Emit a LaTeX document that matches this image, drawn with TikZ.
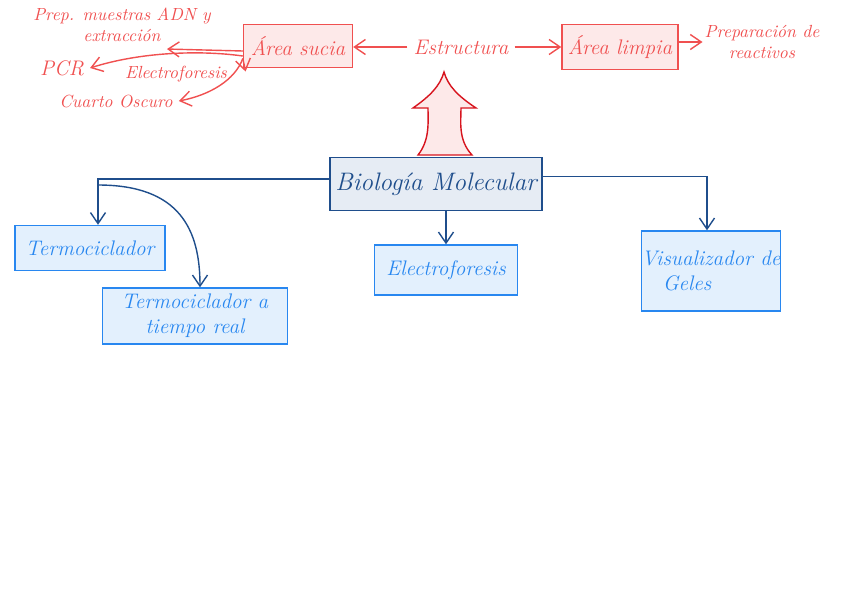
\documentclass[tikz,border=0pt]{standalone}
\usepackage{tikz}
\usetikzlibrary{arrows.meta, positioning, calc}
\definecolor{sketchred}{RGB}{240, 80, 80}
\definecolor{sketchredfill}{RGB}{253, 233, 233}
\definecolor{darkred}{RGB}{215, 20, 30}
\definecolor{bioblue}{RGB}{31, 78, 140}
\definecolor{biofill}{RGB}{230, 236, 244}
\definecolor{lightblue}{RGB}{40, 135, 240}
\definecolor{lightbluefill}{RGB}{227, 240, 253}
\begin{document}
\begin{tikzpicture}[x=0.02cm, y=-0.02cm, >={Straight Barb[length=2.2mm, width=3mm]},
    redbox/.style={rectangle, draw=sketchred, fill=sketchredfill, thick, text=sketchred, font=\large\itshape, inner sep=0pt},
    redtext/.style={text=sketchred, font=\itshape, align=center},
    redline/.style={->, thick, draw=sketchred},
    mainbox/.style={rectangle, draw=bioblue, fill=biofill, thick, text=bioblue, font=\Large\itshape, inner sep=0pt},
    subbox/.style={rectangle, draw=lightblue, fill=lightbluefill, thick, text=lightblue, font=\large\itshape, align=center, inner sep=0pt},
    blueline/.style={->, thick, draw=bioblue}]
    \useasboundingbox (0,0) rectangle (848,599);
    % upper part: estructura
    \node [redbox, minimum width=2.18cm, minimum height=0.86cm] (sucia) at (298,46) {Área sucia};
    \node [redbox, minimum width=2.32cm, minimum height=0.9cm] (limpia) at (620,47) {Área limpia};
    \node [redtext, font=\large\itshape] (estructura) at (461,47) {Estructura};
    \node [redtext, inner sep=1pt] (prep) at (122,25) {Prep. muestras ADN y\\ extracción};
    \node [redtext, font=\large\itshape] (pcr) at (62,68) {PCR};
    \node [redtext] (electrored) at (176,74) {Electroforesis};
    \node [redtext] (cuarto) at (116,101) {Cuarto Oscuro};
    \node [redtext, inner sep=1pt] (reactivos) at (762,42) {Preparación de\\ reactivos};
    \draw [redline] (estructura.west) -- (estructura.west -| sucia.east);
    \draw [redline] (estructura.east) -- (estructura.east -| limpia.west);
    \draw [redline] (limpia.east |- reactivos.west) -- (reactivos.west);
    \draw [redline] ([yshift=-0.1cm]sucia.west) -- ([xshift=0.9cm, yshift=-0.1cm]prep.south);
    \draw [redline] ([yshift=-0.2cm]sucia.west) .. controls (200,50) and (140,52) .. (pcr.east);
    \draw [redline] ([yshift=-0.25cm]sucia.west) -- ([xshift=0.25cm, yshift=0.05cm]electrored.east);
    \draw [redline] ([yshift=-0.25cm]sucia.west) .. controls (235,80) and (210,95) .. (cuarto.east);
    % big arrow
    \draw [darkred, thick, fill=sketchredfill]
        (418,155) .. controls (430,140) and (428,122) .. (428,108) -- (413,108)
        .. controls (430,96) and (440,86) .. (444,72)
        .. controls (448,86) and (458,96) .. (476,108) -- (461,108)
        .. controls (461,122) and (458,140) .. (472,155) -- cycle;
    % lower part: biologia molecular
    \node [mainbox, minimum width=4.24cm, minimum height=1.06cm] (bio) at (436,184) {Biología Molecular};
    \node [subbox, minimum width=3cm, minimum height=0.9cm] (termo) at (90,248) {Termociclador};
    \node [subbox, minimum width=3.7cm, minimum height=1.12cm] (termoreal) at (195,316) {Termociclador a\\ tiempo real};
    \node [subbox, minimum width=2.86cm, minimum height=1cm] (electro) at (446,270) {Electroforesis};
    \node [subbox, minimum width=2.74cm, minimum height=1.6cm, align=left] (visual) at (711,271) {Visualizador de\\ \quad Geles};
    \draw [blueline] ([yshift=0.1cm]bio.west) -| (termo.north -| 98,0);
    \draw [blueline] (98,185) .. controls (180,185) and (200,230) .. (termoreal.north -| 200,0);
    \draw [blueline] (bio.south -| electro.north) -- (electro.north);
    \draw [blueline] ([yshift=0.15cm]bio.east) -| (visual.north -| 707,0);
\end{tikzpicture}
\end{document}
